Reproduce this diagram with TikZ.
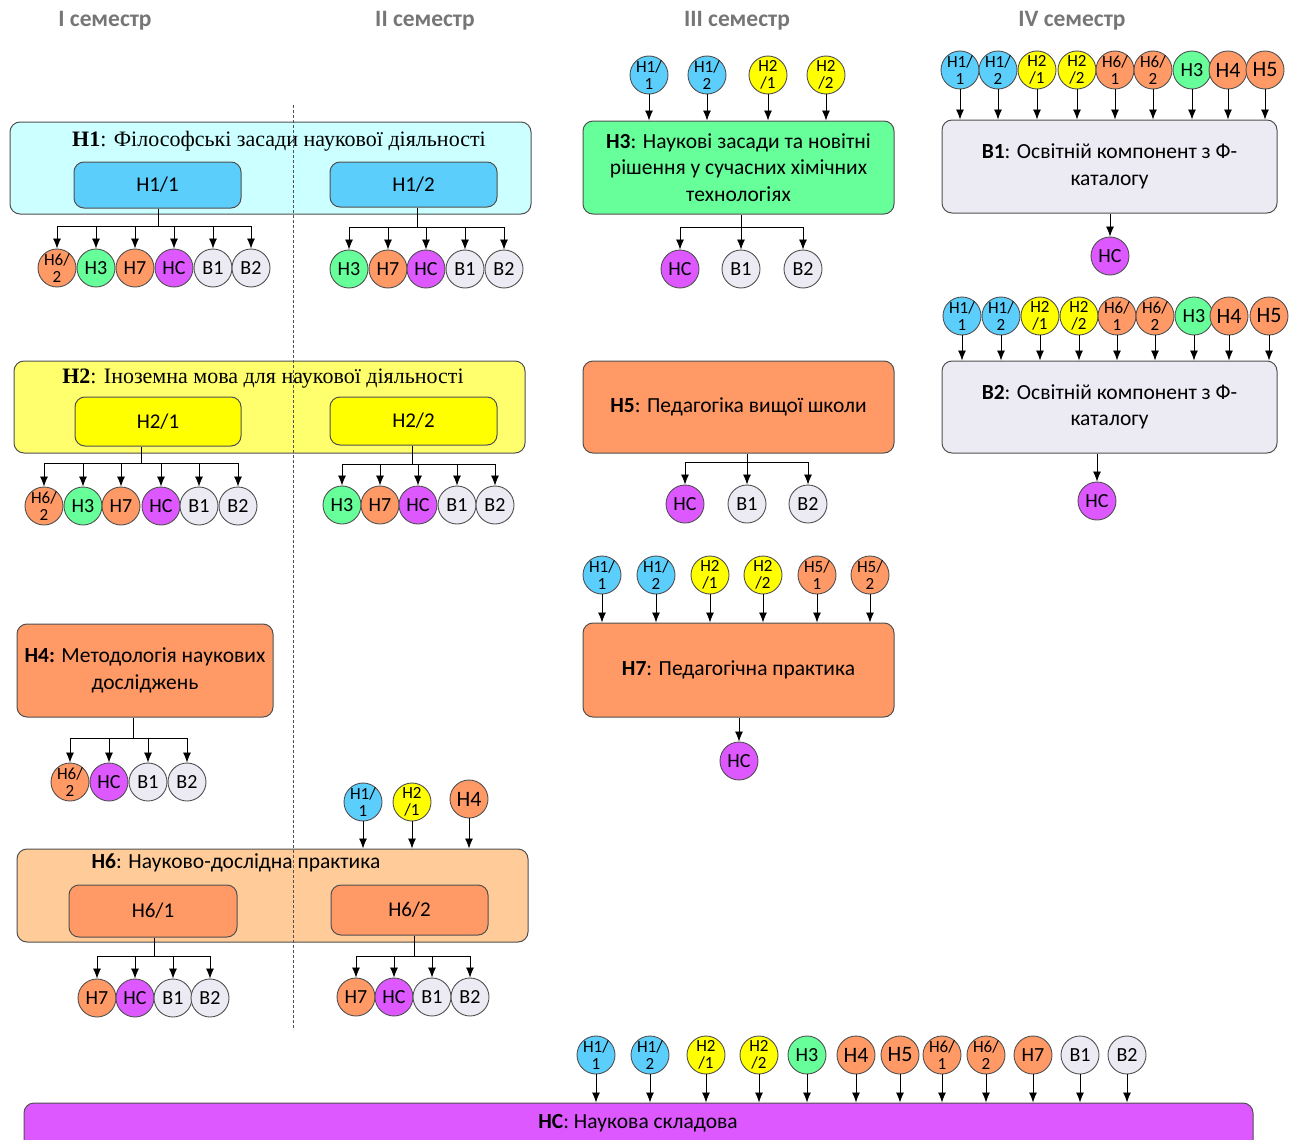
\documentclass[tikz,border=0pt]{standalone}
\usepackage{fontspec}
\setmainfont{Carlito}
\newfontfamily\tnr{Liberation Serif}
\usepackage{xcolor}
\usetikzlibrary{arrows.meta}
\definecolor{cblue}{RGB}{92,206,252}
\definecolor{ccyan}{RGB}{204,255,255}
\definecolor{cyel}{RGB}{255,255,0}
\definecolor{clyel}{RGB}{255,255,110}
\definecolor{cgreen}{RGB}{102,255,153}
\definecolor{corange}{RGB}{255,153,102}
\definecolor{clorange}{RGB}{255,204,153}
\definecolor{cmag}{RGB}{221,89,255}
\definecolor{cgray}{RGB}{236,234,242}
\definecolor{cline}{RGB}{80,80,80}
\definecolor{chead}{RGB}{118,118,118}
\tikzset{sub/.style={circle, draw=cline, line width=0.9pt, minimum size=38pt, inner sep=0pt, font=\fontsize{20}{21}\selectfont}}
\tikzset{two/.style={sub, align=center, inner sep=-5pt, font=\fontsize{17}{16.5}\selectfont}}
\tikzset{big/.style={sub, font=\fontsize{22}{23}\selectfont}}
\tikzset{c-h11/.style={two, fill=cblue, node contents={Н1/\\1}},
         c-h12/.style={two, fill=cblue, node contents={Н1/\\2}},
         c-h21/.style={two, fill=cyel, node contents={Н2\\/1}},
         c-h22/.style={two, fill=cyel, node contents={Н2\\/2}},
         c-h51/.style={two, fill=corange, node contents={Н5/\\1}},
         c-h52/.style={two, fill=corange, node contents={Н5/\\2}},
         c-h61/.style={two, fill=corange, node contents={Н6/\\1}},
         c-h62/.style={two, fill=corange, node contents={Н6/\\2}},
         c-h3/.style={sub, fill=cgreen, node contents={Н3}},
         c-h4/.style={big, fill=corange, node contents={Н4}},
         c-h5/.style={big, fill=corange, node contents={Н5}},
         c-h7/.style={sub, fill=corange, node contents={Н7}},
         c-hs/.style={sub, fill=cmag, node contents={НС}},
         c-b1/.style={sub, fill=cgray, node contents={В1}},
         c-b2/.style={sub, fill=cgray, node contents={В2}}}
\tikzset{box/.style={draw=cline, line width=1pt, rounded corners=10pt, align=center, font=\fontsize{21.5}{26.5}\selectfont}}
\tikzset{part/.style={box, font=\fontsize{21}{24}\selectfont}}
\tikzset{ttl/.style={font=\tnr\fontsize{22}{24}\selectfont}}
\tikzset{head/.style={text=chead, font=\bfseries\fontsize{23.5}{26}\selectfont}}
\tikzset{arr/.style={-{Latex[length=10pt,width=8pt]}, line width=0.8pt}}
\tikzset{bus/.style={line width=0.8pt}}

\begin{document}
\begin{tikzpicture}[x=1pt,y=-1pt]
\useasboundingbox (0,0) rectangle (1302,1140);

\node[head] (s1) at (105,21) {I семестр};
\node[head] (s2) at (425,21) {II семестр};
\node[head] (s3) at (737,21) {III семестр};
\node[head] (s4) at (1072,21) {IV семестр};

% H1
\node[box, fill=ccyan, minimum width=521pt, minimum height=92pt] (h1) at (270.5,168) {};
\node[ttl] (h1t) at (279,141) {\textbf{Н1}: Філософські засади наукової діяльності};
\node[part, fill=cblue, minimum width=167pt, minimum height=46pt] (h11) at (157.5,185) {Н1/1};
\node[part, fill=cblue, minimum width=167pt, minimum height=45pt] (h12) at (413.5,184.5) {Н1/2};
\foreach \x/\c in {57/h62,96/h3,135/h7,174/hs,213/b1,251/b2}
  \node (p11\c) at (\x,268) [c-\c];
\coordinate (k11) at (158,226);
\draw[bus] (h11.south -| k11) -- (k11);
\draw[bus] (p11h62 |- k11) -- (p11b2 |- k11);
\foreach \c in {h62,h3,h7,hs,b1,b2}
  \draw[arr] (p11\c |- k11) -- (p11\c);
\foreach \x/\c in {349/h3,388/h7,426/hs,465/b1,504/b2}
  \node (p12\c) at (\x,269) [c-\c];
\coordinate (k12) at (417,227);
\draw[bus] (h12.south -| k12) -- (k12);
\draw[bus] (p12h3 |- k12) -- (p12b2 |- k12);
\foreach \c in {h3,h7,hs,b1,b2}
  \draw[arr] (p12\c |- k12) -- (p12\c);

% H2
\node[box, fill=clyel, minimum width=511pt, minimum height=92pt] (h2) at (269.5,407) {};
\node[ttl] (h2t) at (263,379) {\textbf{Н2}: Іноземна мова для наукової діяльності};
\node[part, fill=cyel, minimum width=166pt, minimum height=49pt] (h21) at (158,421.5) {Н2/1};
\node[part, fill=cyel, minimum width=167pt, minimum height=48pt] (h22) at (413.5,421) {Н2/2};
\foreach \x/\c in {44/h62,83/h3,121/h7,161/hs,199/b1,238/b2}
  \node (p21\c) at (\x,506) [c-\c];
\coordinate (k21) at (141,463);
\draw[bus] (h21.south -| k21) -- (k21);
\draw[bus] (p21h62 |- k21) -- (p21b2 |- k21);
\foreach \c in {h62,h3,h7,hs,b1,b2}
  \draw[arr] (p21\c |- k21) -- (p21\c);
\foreach \x/\c in {342/h3,380/h7,418/hs,457/b1,495/b2}
  \node (p22\c) at (\x,505) [c-\c];
\coordinate (k22) at (412,464);
\draw[bus] (h22.south -| k22) -- (k22);
\draw[bus] (p22h3 |- k22) -- (p22b2 |- k22);
\foreach \c in {h3,h7,hs,b1,b2}
  \draw[arr] (p22\c |- k22) -- (p22\c);

% H4
\node[box, fill=corange, minimum width=256pt, minimum height=93pt] (h4) at (145,670.5) {\textbf{Н4:} Методологія наукових\\досліджень};
\foreach \x/\c in {70/h62,109/hs,148/b1,187/b2}
  \node (p4\c) at (\x,782) [c-\c];
\coordinate (k4) at (133,738);
\draw[bus] (h4.south -| k4) -- (k4);
\draw[bus] (p4h62 |- k4) -- (p4b2 |- k4);
\foreach \c in {h62,hs,b1,b2}
  \draw[arr] (p4\c |- k4) -- (p4\c);

% H6
\node[box, fill=clorange, minimum width=511pt, minimum height=93pt] (h6) at (272.5,895.5) {};
\node[font=\fontsize{21.5}{24}\selectfont] (h6t) at (236,863) {\textbf{Н6}: Науково-дослідна практика};
\node[part, fill=corange, minimum width=168pt, minimum height=52pt] (h61) at (153,911) {Н6/1};
\node[part, fill=corange, minimum width=157pt, minimum height=50pt] (h62) at (409.5,910) {Н6/2};
\node (i6h11) at (363,802) [c-h11];
\node (i6h21) at (412,802) [c-h21];
\node (i6h4) at (469,799) [c-h4];
\foreach \c in {h11,h21,h4}
  \draw[arr] (i6\c) -- (i6\c |- h6.north);
\foreach \x/\c in {97/h7,135/hs,173/b1,210/b2}
  \node (p61\c) at (\x,998) [c-\c];
\coordinate (k61) at (154,956);
\draw[bus] (h61.south -| k61) -- (k61);
\draw[bus] (p61h7 |- k61) -- (p61b2 |- k61);
\foreach \c in {h7,hs,b1,b2}
  \draw[arr] (p61\c |- k61) -- (p61\c);
\foreach \x/\c in {356/h7,394/hs,432/b1,470/b2}
  \node (p62\c) at (\x,997) [c-\c];
\coordinate (k62) at (414,956);
\draw[bus] (h62.south -| k62) -- (k62);
\draw[bus] (p62h7 |- k62) -- (p62b2 |- k62);
\foreach \c in {h7,hs,b1,b2}
  \draw[arr] (p62\c |- k62) -- (p62\c);

% H3
\node[box, fill=cgreen, minimum width=311pt, minimum height=93pt] (h3) at (738.5,167.5) {\textbf{Н3}: Наукові засади та новітні\\рішення у сучасних хімічних\\технологіях};
\foreach \x/\c in {649/h11,707/h12,768/h21,826/h22}
  \node (i3\c) at (\x,75) [c-\c];
\foreach \c in {h11,h12,h21,h22}
  \draw[arr] (i3\c) -- (i3\c |- h3.north);
\foreach \x/\c in {680/hs,741/b1,803/b2}
  \node (p3\c) at (\x,269) [c-\c];
\coordinate (k3) at (741,227);
\draw[bus] (h3.south -| k3) -- (k3);
\draw[bus] (p3hs |- k3) -- (p3b2 |- k3);
\foreach \c in {hs,b1,b2}
  \draw[arr] (p3\c |- k3) -- (p3\c);

% H5
\node[box, fill=corange, minimum width=311pt, minimum height=92pt] (h5) at (738.5,407) {\textbf{Н5}: Педагогіка вищої школи};
\foreach \x/\c in {685/hs,747/b1,808/b2}
  \node (p5\c) at (\x,504) [c-\c];
\coordinate (k5) at (747,462);
\draw[bus] (h5.south -| k5) -- (k5);
\draw[bus] (p5hs |- k5) -- (p5b2 |- k5);
\foreach \c in {hs,b1,b2}
  \draw[arr] (p5\c |- k5) -- (p5\c);

% H7
\node[box, fill=corange, minimum width=311pt, minimum height=94pt] (h7) at (738.5,670) {\textbf{Н7}: Педагогічна практика};
\foreach \x/\c in {602/h11,656/h12,710/h21,763/h22,817/h51,870/h52}
  \node (i7\c) at (\x,575) [c-\c];
\foreach \c in {h11,h12,h21,h22,h51,h52}
  \draw[arr] (i7\c) -- (i7\c |- h7.north);
\node (o7) at (739,761) [c-hs];
\draw[arr] (h7.south -| o7) -- (o7);

% B1, B2
\node[box, fill=cgray, minimum width=335pt, minimum height=93pt] (b1) at (1109.5,166.5) {\textbf{В1}: Освітній компонент з Ф-\\каталогу};
\foreach \x/\c in {960/h11,998/h12,1037/h21,1077/h22,1115/h61,1153/h62,1192/h3,1228/h4,1265/h5}
  \node (ib1\c) at (\x,70) [c-\c];
\foreach \c in {h11,h12,h21,h22,h61,h62,h3,h4,h5}
  \draw[arr] (ib1\c) -- (ib1\c |- b1.north);
\node (ob1) at (1110,256) [c-hs];
\draw[arr] (b1.south -| ob1) -- (ob1);

\node[box, fill=cgray, minimum width=335pt, minimum height=92pt] (b2) at (1109.5,407) {\textbf{В2}: Освітній компонент з Ф-\\каталогу};
\foreach \x/\c in {962/h11,1001/h12,1040/h21,1079/h22,1117/h61,1155/h62,1194/h3,1229/h4,1269/h5}
  \node (ib2\c) at (\x,316) [c-\c];
\foreach \c in {h11,h12,h21,h22,h61,h62,h3,h4,h5}
  \draw[arr] (ib2\c) -- (ib2\c |- b2.north);
\node (ob2) at (1097,501) [c-hs];
\draw[arr] (b2.south -| ob2) -- (ob2);

% NS
\node[box, fill=cmag, minimum width=1229pt, minimum height=57pt] (ns) at (638.5,1131.5) {};
\node[font=\fontsize{21.5}{24}\selectfont] (nst) at (638,1123) {\textbf{НС}: Наукова складова};
\foreach \x/\c in {596/h11,650/h12,706/h21,759/h22,807/h3,856/h4,900/h5,942/h61,986/h62,1033/h7,1080/b1,1127/b2}
  \node (ins\c) at (\x,1055) [c-\c];
\foreach \c in {h11,h12,h21,h22,h3,h4,h5,h61,h62,h7,b1,b2}
  \draw[arr] (ins\c) -- (ins\c |- ns.north);

% semester border
\coordinate (d1) at (293,105);
\coordinate (d2) at (293,1030);
\draw[cline, line width=0.6pt, dash pattern=on 3pt off 2pt] (d1) -- (d2);
\end{tikzpicture}
\end{document}
